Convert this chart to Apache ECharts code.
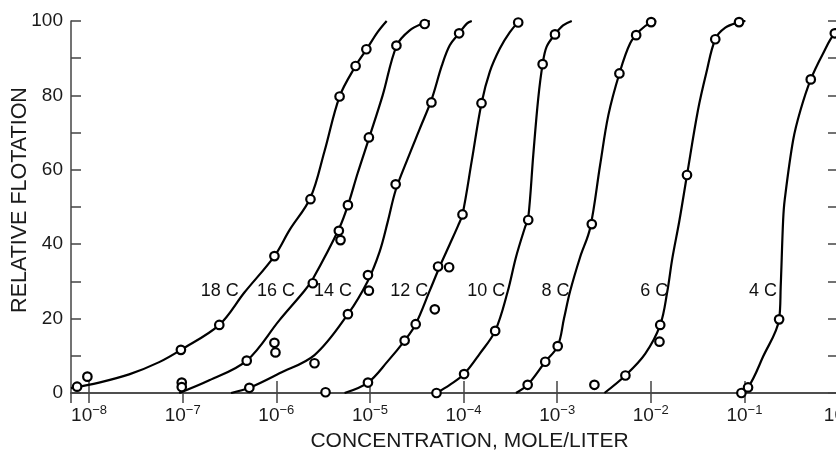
<!DOCTYPE html>
<html><head><meta charset="utf-8">
<script src="https://cdn.jsdelivr.net/npm/echarts@6/dist/echarts.min.js"></script>
<style>html,body{margin:0;padding:0;background:#fff}#c{width:836px;height:452px}</style>
</head><body><div id="c"></div>
<script>
// ---- data (x = log10 concentration, y = relative flotation) ----
const curveNames = ['18 C','16 C','14 C','12 C','10 C','8 C','6 C','4 C'];

const curve18 = [[-8.193,1.3],[-7.893,2.8],[-7.572,5.0],[-7.251,8.3],[-7.019,11.6],[-6.609,18.3],[-6.341,27],[-6.020,36.8],[-5.859,43.8],[-5.635,52.5],[-5.485,65],[-5.324,79.7],[-5.153,87.9],[-5.035,92.4],[-4.918,97],[-4.821,100]];
const curve16 = [[-7.037,0],[-6.716,3.4],[-6.316,8.7],[-5.966,19.6],[-5.699,27.5],[-5.613,30.5],[-5.324,44.5],[-5.228,51],[-5.132,59],[-5.003,69],[-4.864,80],[-4.714,93.4],[-4.575,97.5],[-4.415,99.6],[-4.361,100]];
const curve14 = [[-6.483,0],[-6.288,1.4],[-5.966,5.3],[-5.592,10.2],[-5.235,21.2],[-5.025,30],[-4.896,38],[-4.810,46],[-4.725,54.5],[-4.596,63],[-4.468,71],[-4.340,79],[-4.232,88],[-4.147,93.5],[-4.047,96.7],[-3.965,99.3],[-3.912,100]];
const curve12 = [[-5.271,0],[-5.021,2.8],[-4.811,8.5],[-4.629,14.1],[-4.511,18.5],[-4.361,27.5],[-4.254,34],[-4.147,40],[-4.058,45],[-4.011,48],[-3.911,62.6],[-3.808,77.9],[-3.719,86.4],[-3.612,92.6],[-3.505,97],[-3.416,99.6],[-3.376,100]];
const curve10 = [[-4.289,0],[-4.147,2.2],[-3.994,5.1],[-3.826,10.6],[-3.662,16.7],[-3.529,27.2],[-3.440,36.5],[-3.344,44.5],[-3.309,47],[-3.255,64],[-3.202,79.2],[-3.155,88.4],[-3.112,93.1],[-3.023,96.4],[-2.937,98.8],[-2.844,100]];
const curve8 = [[-3.440,0],[-3.315,2.2],[-3.127,8.4],[-2.994,12.6],[-2.927,20],[-2.863,27.2],[-2.755,36.5],[-2.648,44.3],[-2.541,61.3],[-2.453,74.7],[-2.335,85.9],[-2.220,94],[-2.113,97.5],[-1.996,99.7],[-1.942,100]];
const curve6 = [[-2.495,0],[-2.271,4.7],[-2.060,10.5],[-1.899,18.3],[-1.824,27.2],[-1.771,36],[-1.693,46.5],[-1.613,58.6],[-1.496,76],[-1.407,86],[-1.311,95.1],[-1.204,98.2],[-1.057,99.7],[-0.989,100]];
const curve4 = [[-1.068,0],[-0.961,1.5],[-0.800,9.8],[-0.629,19.8],[-0.612,28.6],[-0.586,46.5],[-0.569,52],[-0.479,68],[-0.401,76],[-0.291,84.3],[-0.165,91],[-0.034,96.7],[0.134,99.5]];

const points18 = [[-8.128,1.7],[-8.018,4.4],[-7.019,11.6],[-6.609,18.3],[-6.020,36.8],[-5.635,52.1],[-5.324,79.7],[-5.153,87.9],[-5.038,92.4]];
const points16 = [[-7.010,2.8],[-7.010,1.6],[-6.316,8.7],[-6.020,13.5],[-6.009,10.9],[-5.610,29.5],[-5.332,43.6],[-5.314,41.1],[-5.235,50.5],[-5.011,68.7],[-4.717,93.4],[-4.415,99.2]];
const points14 = [[-6.288,1.4],[-5.592,8.0],[-5.235,21.2],[-5.011,27.5],[-5.021,31.7],[-4.725,56.1],[-4.343,78.1],[-4.047,96.7]];
const points12 = [[-5.474,0.2],[-5.021,2.8],[-4.629,14.1],[-4.511,18.5],[-4.307,22.5],[-4.272,34],[-4.154,33.8],[-4.011,48],[-3.808,77.9],[-3.416,99.6]];
const points10 = [[-4.289,0],[-3.994,5.1],[-3.662,16.7],[-3.309,46.5],[-3.155,88.4],[-3.023,96.4]];
const points8 = [[-3.315,2.2],[-3.127,8.4],[-2.994,12.6],[-2.630,45.4],[-2.335,85.9],[-2.156,96.2],[-1.996,99.7]];
const points6 = [[-2.602,2.2],[-2.271,4.7],[-1.899,18.3],[-1.907,13.8],[-1.613,58.6],[-1.311,95.1],[-1.057,99.7]];
const points4 = [[-1.032,0],[-0.961,1.5],[-0.629,19.8],[-0.291,84.3],[-0.034,96.7]];

const labelLogX = [-6.598,-5.999,-5.388,-4.575,-3.751,-3.012,-1.957,-0.797];
const labelY = [27.2,27.2,27.2,27.2,27.2,27.2,27.2,27.2];

const xMinLog = -8.193, xMaxLog = 0;
const yMin = 0, yMax = 100, yInterval = 10;
const yLabelEvery = 20;

const curves = [curve18,curve16,curve14,curve12,curve10,curve8,curve6,curve4];
const pointSets = [points18,points16,points14,points12,points10,points8,points6,points4];

// ---- chart ----
const toConc = d => [Math.pow(10, d[0]), d[1]];
const FONT = 'Liberation Sans, Arial, Helvetica, sans-serif';
const AX = '#444';
const TXT = '#1a1a1a';

function xLabel(v) {
  const l = Math.log10(v);
  const e = Math.round(l);
  if (Math.abs(l - e) > 1e-6) return '';
  const s = e < 0 ? '\u2212' + (-e) : String(e);
  return '{b|10}{s|' + s + '}';
}

const series = [];
curves.forEach((c, i) => {
  series.push({
    name: curveNames[i], type: 'line', xAxisIndex: 0, yAxisIndex: 0,
    data: c.map(toConc), showSymbol: false, symbol: 'none',
    smooth: 0.35, lineStyle: { color: '#000', width: 2.2, opacity: 1 }, z: 2, silent: true
  });
});
pointSets.forEach((p, i) => {
  series.push({
    name: curveNames[i] + ' data', type: 'scatter', xAxisIndex: 0, yAxisIndex: 0,
    data: p.map(toConc), symbol: 'circle', symbolSize: 8.5,
    itemStyle: { color: '#fff', borderColor: '#000', borderWidth: 2.2, opacity: 1 }, z: 4, silent: true
  });
});
series.push({
  name: 'labels', type: 'scatter', xAxisIndex: 0, yAxisIndex: 0,
  data: curveNames.map((n, i) => ({ value: [Math.pow(10, labelLogX[i]), labelY[i]], name: n })),
  symbolSize: 1, itemStyle: { color: 'rgba(255,255,255,0)', opacity: 1 }, z: 3, silent: true,
  label: { show: true, position: [0, 0], align: 'center', verticalAlign: 'middle',
           formatter: p => p.name, opacity: 1, textBorderWidth: 0,
           fontFamily: FONT, fontSize: 18, color: '#111' }
});

const xCommon = {
  type: 'log', logBase: 10, min: Math.pow(10, xMinLog), max: Math.pow(10, xMaxLog),
  splitNumber: 8, splitLine: { show: false },
  axisLine: { show: true, lineStyle: { color: AX, width: 1.5 } },
  axisTick: { show: true, inside: true, length: 12, lineStyle: { color: AX, width: 1.5 } },
  minorTick: { show: false }
};
const yCommon = {
  type: 'value', min: yMin, max: yMax, interval: yInterval, splitLine: { show: false },
  axisLine: { show: true, lineStyle: { color: AX, width: 1.5 } },
  axisTick: { show: true, inside: true, length: 10, lineStyle: { color: AX, width: 1.5 } }
};

const chart = echarts.init(document.getElementById('c'), null, { renderer: 'canvas' });
chart.setOption({
  animation: false,
  backgroundColor: '#fff',
  grid: { left: 71, right: -2, top: 21, bottom: 59, containLabel: false, outerBoundsMode: 'none' },
  xAxis: [
    Object.assign({}, xCommon, {
      position: 'bottom',
      name: 'CONCENTRATION, MOLE/LITER', nameLocation: 'middle', nameGap: 38, nameMoveOverlap: false,
      nameTextStyle: { fontFamily: FONT, fontSize: 21, color: TXT, padding: [0, 0, 0, 30] },
      axisLabel: {
        show: true, margin: 11, showMinLabel: false, formatter: xLabel, hideOverlap: false,
        rich: {
          b: { fontFamily: FONT, fontSize: 19, color: TXT, lineHeight: 21, verticalAlign: 'bottom' },
          s: { fontFamily: FONT, fontSize: 13, color: TXT, lineHeight: 11, verticalAlign: 'top' }
        }
      }
    }),
    Object.assign({}, xCommon, {
      position: 'top', axisTick: { show: true, inside: true, length: 10, lineStyle: { color: AX, width: 1.5 } },
      axisLabel: { show: false }
    })
  ],
  yAxis: [
    Object.assign({}, yCommon, {
      position: 'left',
      name: 'RELATIVE FLOTATION', nameLocation: 'middle', nameGap: 40, nameRotate: 90, nameMoveOverlap: false,
      nameTextStyle: { fontFamily: FONT, fontSize: 21.5, color: TXT, padding: [0, 0, 0, 14] },
      axisLabel: { show: true, margin: 8, fontFamily: FONT, fontSize: 19, color: TXT,
                   formatter: v => (v % yLabelEvery === 0 ? String(v) : '') }
    }),
    Object.assign({}, yCommon, {
      position: 'right', axisLabel: { show: false }
    })
  ],
  series: series
});
</script></body></html>
